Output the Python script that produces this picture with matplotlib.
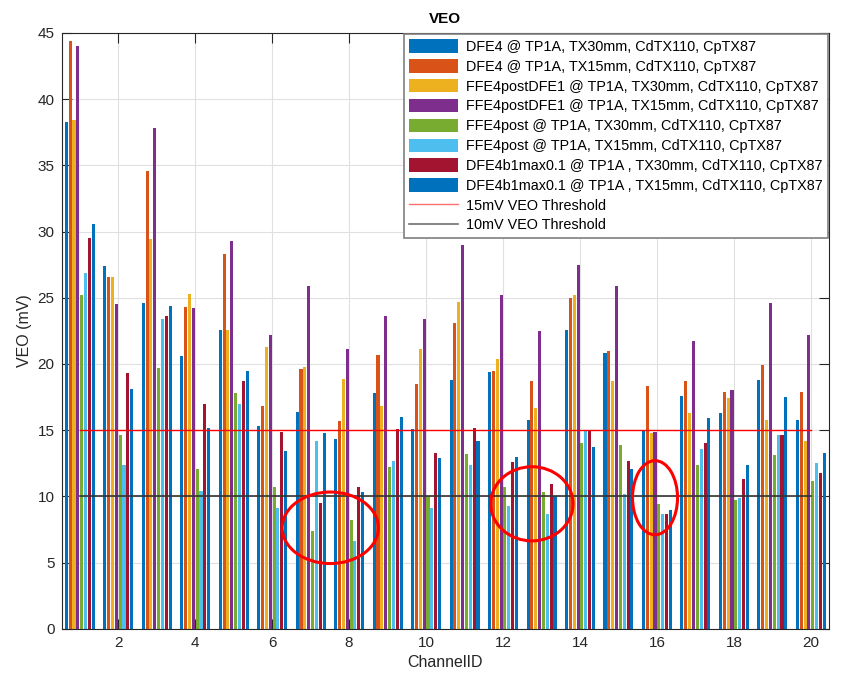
import numpy as np
import matplotlib.pyplot as plt
from matplotlib.patches import Ellipse

plt.rcParams['font.family'] = ['Liberation Sans', 'DejaVu Sans']

channels = np.arange(1, 21)

labels = [
    'DFE4 @ TP1A, TX30mm, CdTX110, CpTX87',
    'DFE4 @ TP1A, TX15mm, CdTX110, CpTX87',
    'FFE4postDFE1 @ TP1A, TX30mm, CdTX110, CpTX87',
    'FFE4postDFE1 @ TP1A, TX15mm, CdTX110, CpTX87',
    'FFE4post @ TP1A, TX30mm, CdTX110, CpTX87',
    'FFE4post @ TP1A, TX15mm, CdTX110, CpTX87',
    'DFE4b1max0.1 @ TP1A , TX30mm, CdTX110, CpTX87',
    'DFE4b1max0.1 @ TP1A , TX15mm, CdTX110, CpTX87',
]

dfe4_30 = [38.3, 27.4, 24.6, 20.6, 22.6, 15.3, 16.4, 14.3, 17.8, 15.1,
           18.8, 19.4, 15.8, 22.6, 20.8, 15.0, 17.6, 16.3, 18.8, 15.8]
dfe4_15 = [44.4, 26.6, 34.6, 24.3, 28.3, 16.8, 19.6, 15.7, 20.7, 18.5,
           23.1, 19.5, 18.7, 25.0, 21.0, 18.3, 18.7, 17.9, 19.9, 17.9]
ffe4pd_30 = [38.4, 26.6, 29.4, 25.3, 22.6, 21.3, 19.8, 18.9, 16.8, 21.1,
             24.7, 20.35, 16.65, 25.2, 18.7, 14.8, 16.3, 17.4, 15.8, 14.2]
ffe4pd_15 = [44.0, 24.5, 37.8, 24.2, 29.3, 22.2, 25.9, 21.15, 23.6, 23.4,
             29.0, 25.2, 22.5, 27.5, 25.9, 14.9, 21.7, 18.0, 24.6, 22.2]
ffe4p_30 = [25.2, 14.6, 19.7, 12.1, 17.8, 10.7, 7.4, 8.2, 12.2, 10.0,
            13.2, 10.7, 10.35, 14.06, 13.9, 9.4, 12.4, 9.7, 13.1, 11.2]
ffe4p_15 = [26.9, 12.35, 23.4, 10.4, 17.0, 9.1, 14.2, 6.6, 12.7, 9.15,
            12.35, 9.3, 8.7, 15.0, 10.2, 8.65, 13.6, 9.9, 14.6, 12.5]
dfe4b1_30 = [29.5, 19.3, 23.6, 17.0, 18.7, 14.85, 9.5, 10.7, 15.1, 13.3,
             15.2, 12.6, 10.9, 15.0, 12.7, 8.7, 14.0, 11.3, 14.65, 11.8]
dfe4b1_15 = [30.6, 18.1, 24.4, 15.2, 19.5, 13.4, 14.8, 10.3, 16.0, 12.9,
             14.2, 13.0, 10.05, 13.7, 12.1, 8.97, 15.9, 12.4, 17.5, 13.3]

series = [dfe4_30, dfe4_15, ffe4pd_30, ffe4pd_15, ffe4p_30, ffe4p_15, dfe4b1_30, dfe4b1_15]
colors = ['#0072BD', '#D95319', '#EDB120', '#7E2F8E', '#77AC30', '#4DBEEE', '#A2142F', '#0072BD']

# red circles drawn on the original screenshot (x, y, width, height)
circles = [(7.51, 7.63, 2.5, 5.4), (12.75, 9.44, 2.14, 5.6), (15.95, 9.9, 1.17, 5.6)]

fig = plt.figure(figsize=(8.45, 6.85), dpi=100)
ax = fig.add_axes([0.073, 0.082, 0.908, 0.870])

handles = []
step = 0.1
for k, (vals, c, lab) in enumerate(zip(series, colors, labels)):
    b = ax.bar(channels + (k - 3.5) * step, vals, width=0.08, color=c, label=lab, zorder=2)
    handles.append(b)

l15, = ax.plot([1, 20], [15, 15], color='red', lw=1, label='15mV VEO Threshold', zorder=3)
l10, = ax.plot([1, 20], [10, 10], color='#333333', lw=1.2, label='10mV VEO Threshold', zorder=3)
handles += [l15, l10]

for (cx, cy, w, h) in circles:
    ax.add_patch(Ellipse((cx, cy), w, h, fill=False, edgecolor='red', lw=2.2, zorder=4))

ax.set_xlim(0.53, 20.47)
ax.set_ylim(0, 45)
ax.set_xticks(np.arange(2, 21, 2))
ax.set_yticks(np.arange(0, 46, 5))
ax.tick_params(direction='in', top=True, right=True, labelsize=11, colors='#262626',
               length=7, pad=5)
ax.grid(True, color='#e0e0e0', lw=0.8, zorder=0)
ax.set_axisbelow(True)
for s in ax.spines.values():
    s.set_color('#262626')

ax.set_title('VEO', fontsize=11, fontweight='bold', pad=7)
ax.set_xlabel('ChannelID', fontsize=11.5, color='#262626')
ax.set_ylabel('VEO (mV)', fontsize=11.5, color='#262626')

leg = ax.legend(handles=handles, loc='upper right', fontsize=10.4, fancybox=False, framealpha=1,
                edgecolor='#7f7f7f', borderaxespad=0.1, handlelength=3.4,
                handleheight=1.05, labelspacing=0.36, handletextpad=0.5,
                borderpad=0.35)
leg.get_frame().set_linewidth(1.2)
leg.get_lines()[0].set_color('#ff7070')
leg.get_lines()[1].set_color('#707070')

fig.savefig('out.png', dpi=100)
